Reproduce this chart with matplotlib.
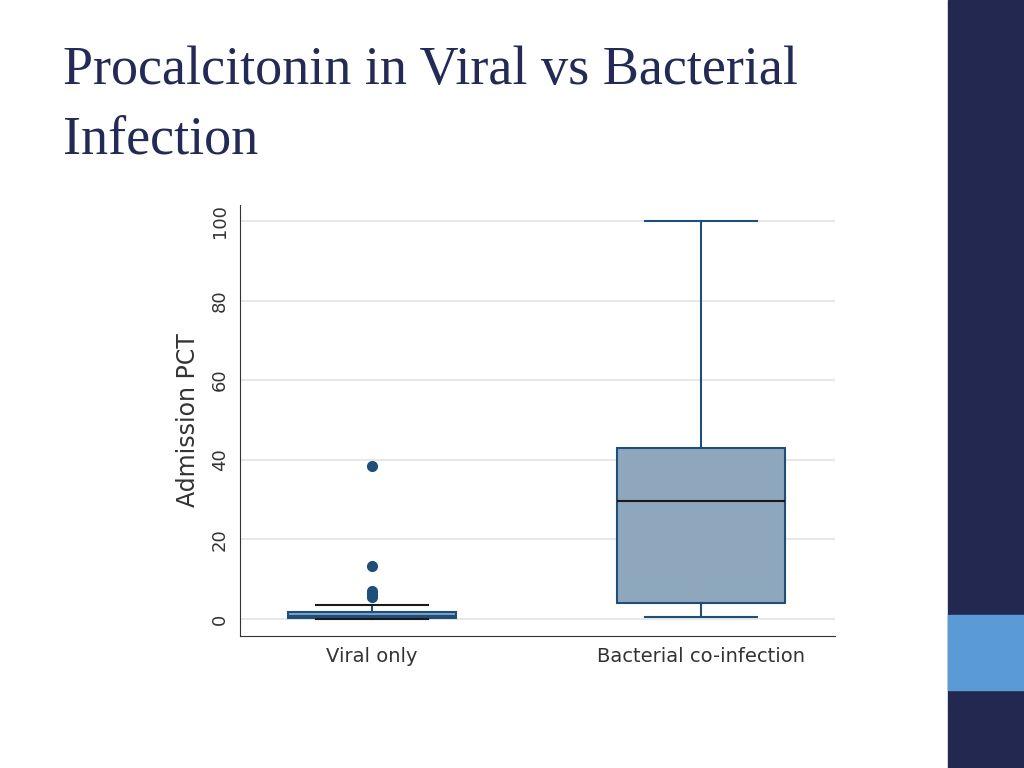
import matplotlib.pyplot as plt
from matplotlib.patches import Rectangle

groups = ["Viral only", "Bacterial co-infection"]
q1 = [0.2, 4.0]
med = [0.6, 29.5]
q3 = [1.8, 43.0]
whislo = [0.0, 0.5]
whishi = [3.5, 100.0]
outliers = [[38.5, 13.3, 7.0, 6.2, 5.5], []]
yticks = [0, 20, 40, 60, 80, 100]

navy = "#232a55"
fig = plt.figure(figsize=(10.24, 7.68), dpi=100)
fig.patch.set_facecolor("white")
fig.patches.append(Rectangle((948/1024, 0), 76/1024, 1, transform=fig.transFigure, color="#232850", zorder=0))
fig.patches.append(Rectangle((948/1024, 78/768), 76/1024, 75/768, transform=fig.transFigure, color="#5b9bd5", zorder=1))

fig.text(63/1024, 1 - 84/768, "Procalcitonin in Viral vs Bacterial", fontsize=39,
         family="Liberation Serif", color=navy)
fig.text(63/1024, 1 - 154/768, "Infection", fontsize=39, family="Liberation Serif", color=navy)

ax = fig.add_axes([240/1024, 132/768, 595/1024, 431/768])
stats = []
for i in range(2):
    stats.append(dict(label=groups[i], q1=q1[i], med=med[i], q3=q3[i],
                      whislo=whislo[i], whishi=whishi[i], fliers=outliers[i]))
for i, st in enumerate(stats):
    ax.bxp([st], positions=[i + 1], widths=0.51, capwidths=0.34, patch_artist=True,
           boxprops=dict(facecolor="#8fa7bd" if i else "#7fa2c8", edgecolor="#1f4e79", linewidth=1.5),
           medianprops=dict(color="#1a1a1a" if i else "#1f4e79", linewidth=1.5),
           whiskerprops=dict(color="#1f4e79", linewidth=1.5),
           capprops=dict(color="#1f4e79" if i else "#1a1a1a", linewidth=1.5),
           flierprops=dict(marker="o", markerfacecolor="#1f4e79", markeredgecolor="#1f4e79", markersize=7))

ax.set_xlim(0.599, 2.407)
ax.set_ylim(-4.3, 104)
ax.set_yticks(yticks)
ax.set_yticklabels([str(t) for t in yticks], rotation=90, va="center", fontsize=13, color="#333333")
ax.set_xticks([1, 2])
ax.set_xticklabels(groups, fontsize=14, color="#333333")
ax.set_ylabel("Admission PCT", fontsize=17, color="#333333", labelpad=8)
ax.grid(axis="y", color="#e8e8e8", linewidth=1.5)
ax.set_axisbelow(True)
for s in ["top", "right"]:
    ax.spines[s].set_visible(False)
for s in ["left", "bottom"]:
    ax.spines[s].set_color("#333333")
ax.tick_params(axis="both", colors="#333333", length=0, pad=8)

fig.savefig("out.png", dpi=100)
